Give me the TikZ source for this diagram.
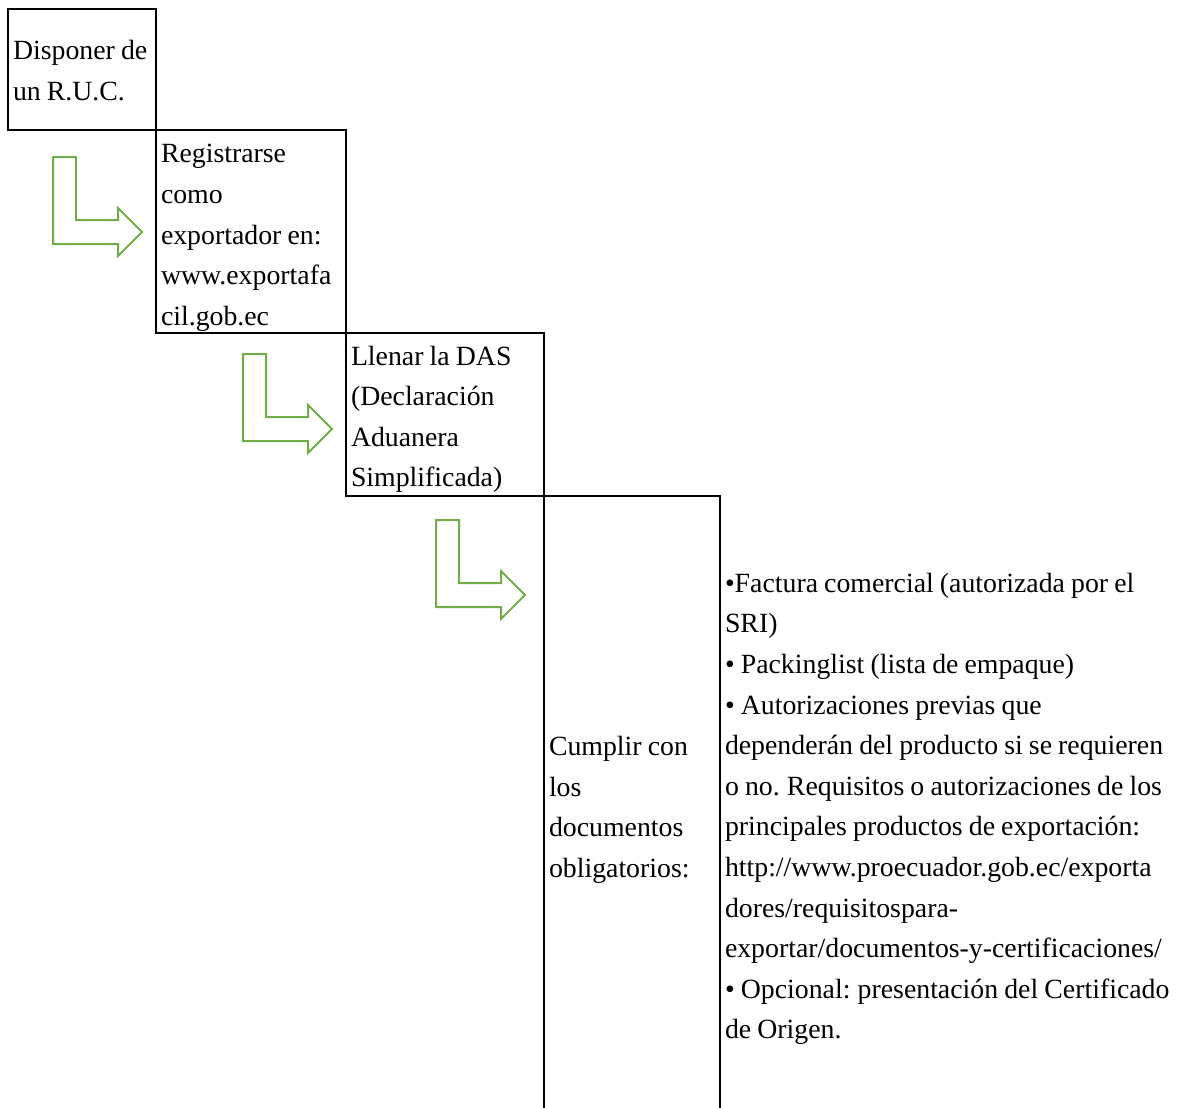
\documentclass[tikz,border=0pt]{standalone}
\usepackage{fontspec}
\setmainfont{Liberation Serif}
\usetikzlibrary{positioning}
\definecolor{arrowgreen}{RGB}{112,173,71}
\newcommand\stepfont{\fontsize{13.9}{20.3}\selectfont}
\newcommand\tightspaces{\spaceskip=0.22em plus 0.05em\relax\xspaceskip=0.26em\relax}
\tikzset{
  stepbox/.style={draw, line width=1pt, anchor=north west, align=left, outer sep=0pt,
    inner xsep=2.5pt, inner ysep=0pt, font=\stepfont, execute at begin node=\tightspaces},
  listtext/.style={anchor=west, align=left, inner xsep=2.5pt, inner ysep=0pt, outer sep=0pt,
    font=\stepfont, execute at begin node=\tightspaces},
  greenarrow/.style={draw=arrowgreen, line width=1pt, line join=miter}
}
\begin{document}
\begin{tikzpicture}[x=0.5pt, y=-0.5pt]
\useasboundingbox (0,0) rectangle (1184,1108);
\clip (0,0) rectangle (1184,1108);

% steps
\node[stepbox, text width=69pt, text height=10.5pt, minimum height=60.5pt] (ruc) at (8,9) {Disponer de\\un R.U.C.};
\node[stepbox, text width=90pt, text height=15.5pt, minimum height=101.5pt] (registro) at (ruc.south east) {Registrarse\\como\\exportador en:\\www.exportafa\\cil.gob.ec};
\node[stepbox, text width=94pt, text height=14.5pt, minimum height=81.5pt] (das) at (registro.south east) {Llenar la DAS\\(Declaración\\Aduanera\\Simplificada)};
\node[stepbox, text width=83pt, text height=12.5pt, minimum height=311pt] (docs) at (das.south east) {Cumplir con\\los\\documentos\\obligatorios:};
\node[listtext, yshift=-1pt] (lista) at (docs.east) {•Factura comercial (autorizada por el\\SRI)\\• Packinglist (lista de empaque)\\• Autorizaciones previas que\\dependerán del producto si se requieren\\o no. Requisitos o autorizaciones de los\\principales productos de exportación:\\http://www.proecuador.gob.ec/exporta\\dores/requisitospara-\\exportar/documentos-y-certificaciones/\\• Opcional: presentación del Certificado\\de Origen.};

% bent arrows
\draw[greenarrow, shift={(53,157)}] (0,0) -- (23,0) -- (23,63) -- (65,63) -- (65,51) -- (89,75) -- (65,99) -- (65,87) -- (0,87) -- cycle;
\draw[greenarrow, shift={(243,354)}] (0,0) -- (23,0) -- (23,63) -- (65,63) -- (65,51) -- (89,75) -- (65,99) -- (65,87) -- (0,87) -- cycle;
\draw[greenarrow, shift={(436,520)}] (0,0) -- (23,0) -- (23,63) -- (65,63) -- (65,51) -- (89,75) -- (65,99) -- (65,87) -- (0,87) -- cycle;
\end{tikzpicture}
\end{document}
